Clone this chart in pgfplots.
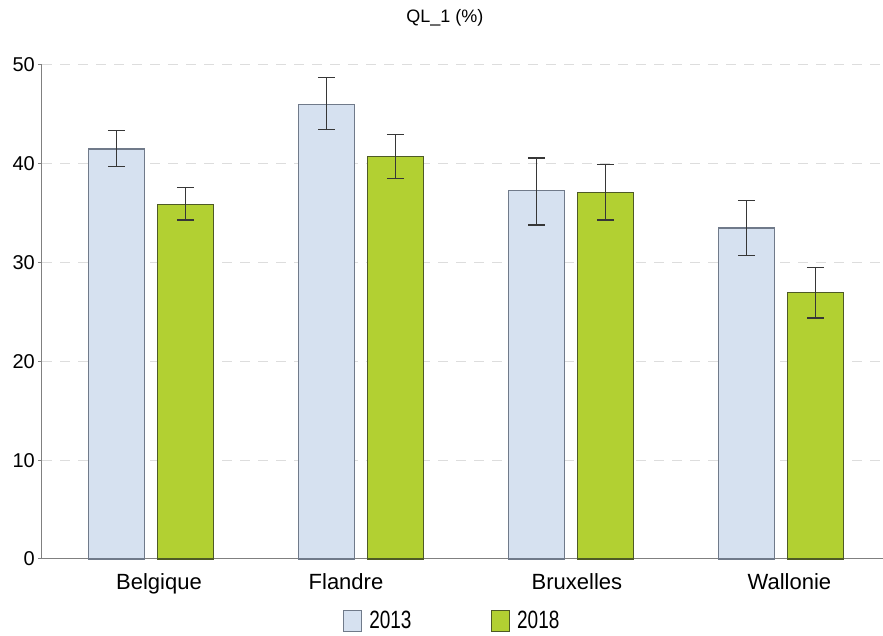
\documentclass[border=0pt]{standalone}
\usepackage{pgfplots}
\pgfplotsset{compat=1.18}
\usepackage{pgfplotstable}
\usepackage{fontspec}
\setmainfont{Liberation Sans}
\newfontfamily\narrowfont[FakeStretch=0.76]{Liberation Sans}
\definecolor{cA}{RGB}{214,225,240}
\definecolor{cAe}{RGB}{112,122,138}
\definecolor{cB}{RGB}{178,208,50}
\definecolor{cBe}{RGB}{78,90,38}
\definecolor{errc}{RGB}{55,55,55}
\definecolor{gridc}{RGB}{221,221,221}
\definecolor{axc}{RGB}{128,128,128}
\pgfplotstableread{
x y ep em
0 41.5 1.9 1.8
1 46.0 2.7 2.5
2 37.3 3.3 3.5
3 33.5 2.8 2.8
}\dataA
\pgfplotstableread{
x y ep em
0 35.9 1.7 1.6
1 40.7 2.3 2.2
2 37.1 2.8 2.8
3 27.0 2.5 2.6
}\dataB
\begin{document}
\begin{tikzpicture}
\useasboundingbox (0,0) rectangle (883pt,636pt);
\begin{axis}[
  at={(42pt,77pt)}, anchor=south west,
  scale only axis, width=841pt, height=494pt,
  xmin=-0.519, xmax=3.486, ymin=0, ymax=50,
  ybar=13pt, bar width=56pt,
  legend image code/.code={\draw[#1] (0pt,-10.5pt) rectangle (18pt,10.5pt); \path[draw=none,fill=none] (0pt,0pt) -- (25pt,0pt);},
  axis x line=bottom, axis y line=left,
  axis line style={-, draw=axc, line width=1pt},
  xtick={0,1,2,3},
  xticklabels={\hspace*{16pt}Belgique, Flandre\hspace*{30pt}, \hspace*{12pt}Bruxelles, \hspace*{17pt}Wallonie},
  ytick={0,10,20,30,40,50},
  major x tick style={draw=none},
  major y tick style={draw=axc, line width=1pt},
  tick align=outside, major tick length=4pt,
  ymajorgrids, grid style={gridc, dash pattern=on 10pt off 8pt, line width=1pt},
  /pgf/number format/assume math mode=true,
  yticklabel style={font=\fontsize{20}{24}\selectfont, inner sep=0pt, xshift=-3pt},
  xticklabel style={font=\fontsize{22}{26}\selectfont, inner sep=0pt, yshift=-10pt},
  legend style={at={(0.487,-0.125)}, anchor=center, draw=none, fill=none,
    font=\narrowfont\fontsize{25}{28}\selectfont, legend columns=2,
    /tikz/every even column/.append style={column sep=78pt},
    nodes={inner sep=1pt}},
  error bars/error bar style={errc, line width=1.3pt},
  error bars/error mark options={errc, rotate=90, mark size=8.5pt, line width=1.3pt},
  clip=false,
]
\addplot[fill=cA, draw=cAe, line width=1.2pt,
  error bars/.cd, y dir=both, y explicit]
  table[x=x, y=y, y error plus=ep, y error minus=em] {\dataA};
\addplot[fill=cB, draw=cBe, line width=1.2pt,
  error bars/.cd, y dir=both, y explicit]
  table[x=x, y=y, y error plus=ep, y error minus=em] {\dataB};
\legend{2013,2018}
\node[font=\fontsize{18}{22}\selectfont] at (rel axis cs:0.479,1.095) {QL\_1 (\%)};
\end{axis}
\end{tikzpicture}
\end{document}
